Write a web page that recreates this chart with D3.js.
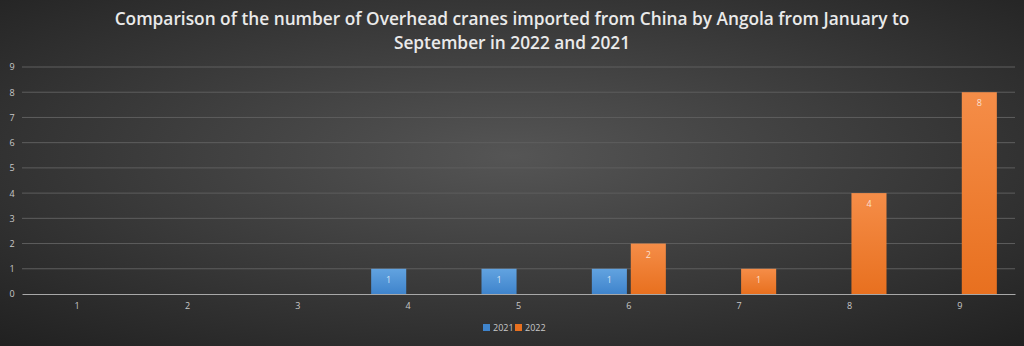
<!DOCTYPE html>
<html>
<head>
<meta charset="utf-8">
<script src="https://cdn.jsdelivr.net/npm/d3@7/dist/d3.min.js"></script>
<style>
  html, body { margin: 0; padding: 0; background: #2a2a2a; }
  svg { display: block; }
</style>
</head>
<body>
<svg id="chart" width="1024" height="346"></svg>
<script>
const months = ["1", "2", "3", "4", "5", "6", "7", "8", "9"];
const seriesNames = ["2021", "2022"];
const values2021 = [0, 0, 0, 1, 1, 1, 0, 0, 0];
const values2022 = [0, 0, 0, 0, 0, 2, 1, 4, 8];
const yTicks = [0, 1, 2, 3, 4, 5, 6, 7, 8, 9];
const titleLines = [
  "Comparison of the number of Overhead cranes imported from China by Angola from January to",
  "September in 2022 and 2021"
];

const W = 1024, H = 346;
const margin = { left: 22, right: 9, top: 67, bottom: 52 };
const svg = d3.select("#chart");
const defs = svg.append("defs");

// Background: dark radial gradient
const bg = defs.append("radialGradient").attr("id", "bg")
  .attr("cx", "50%").attr("cy", "45%").attr("r", "75%");
bg.append("stop").attr("offset", "0%").attr("stop-color", "#555555");
bg.append("stop").attr("offset", "100%").attr("stop-color", "#202020");
svg.append("rect").attr("width", W).attr("height", H).attr("fill", "url(#bg)");

const colors = { "2021": ["#62a3e0", "#3f84cc"], "2022": ["#f58d48", "#e8701f"] };
seriesNames.forEach(s => {
  const g = defs.append("linearGradient").attr("id", "g" + s)
    .attr("x1", 0).attr("y1", 0).attr("x2", 0).attr("y2", 1);
  g.append("stop").attr("offset", "0%").attr("stop-color", colors[s][0]);
  g.append("stop").attr("offset", "100%").attr("stop-color", colors[s][1]);
});

const x0 = d3.scaleBand().domain(months)
  .range([margin.left, W - margin.right]).paddingInner(0).paddingOuter(0);
const x1 = d3.scaleBand().domain(seriesNames).range([-37, 37]).paddingInner(0.1);
const y = d3.scaleLinear().domain([0, 9]).range([H - margin.bottom, margin.top]);

// Title
svg.append("g").selectAll("text").data(titleLines).join("text")
  .attr("x", W / 2).attr("y", (d, i) => 25 + i * 24)
  .attr("text-anchor", "middle")
  .attr("fill", "#eaeaea")
  .attr("font-family", "'Open Sans', sans-serif")
  .attr("font-weight", 600)
  .attr("font-size", 17.3)
  .text(d => d);

// Gridlines
svg.append("g").selectAll("line").data(yTicks.filter(t => t > 0)).join("line")
  .attr("x1", margin.left).attr("x2", W - margin.right)
  .attr("y1", d => y(d)).attr("y2", d => y(d))
  .attr("stroke", "#5e5e5e").attr("stroke-width", 1);

// Y axis labels
const yAxis = d3.axisLeft(y).tickValues(yTicks).tickSize(0).tickPadding(0);
const yg = svg.append("g").attr("transform", `translate(12,0)`).call(yAxis);
yg.select(".domain").remove();
yg.selectAll("text").attr("fill", "#c8c8c8").attr("font-size", 9)
  .attr("font-family", "'Open Sans', sans-serif").attr("text-anchor", "middle");

// X axis
const xAxis = d3.axisBottom(x0).tickSize(0).tickPadding(9);
const xg = svg.append("g").attr("transform", `translate(0,${y(0)})`).call(xAxis);
xg.select(".domain").attr("stroke", "#a8a8a8");
xg.selectAll("text").attr("fill", "#c8c8c8").attr("font-size", 9)
  .attr("font-family", "'Open Sans', sans-serif");

// Bars
const rows = months.map((m, i) => ({ month: m, vals: [
  { s: "2021", v: values2021[i] }, { s: "2022", v: values2022[i] }
] }));
const groups = svg.append("g").selectAll("g").data(rows).join("g")
  .attr("transform", d => `translate(${x0(d.month) + x0.bandwidth() / 2},0)`);
groups.selectAll("rect").data(d => d.vals.filter(e => e.v > 0)).join("rect")
  .attr("x", d => x1(d.s)).attr("width", x1.bandwidth())
  .attr("y", d => y(d.v)).attr("height", d => y(0) - y(d.v))
  .attr("fill", d => `url(#g${d.s})`);
groups.selectAll("text.lbl").data(d => d.vals.filter(e => e.v > 0)).join("text")
  .attr("class", "lbl")
  .attr("x", d => x1(d.s) + x1.bandwidth() / 2)
  .attr("y", d => y(d.v) + 14)
  .attr("text-anchor", "middle")
  .attr("fill", "rgba(255,255,255,0.75)")
  .attr("font-size", 9)
  .attr("font-family", "'Open Sans', sans-serif")
  .text(d => d.v);

// Legend
const legend = svg.append("g").attr("transform", "translate(483,330)");
seriesNames.forEach((s, i) => {
  const g = legend.append("g").attr("transform", `translate(${i * 32},0)`);
  g.append("rect").attr("x", 0).attr("y", -6).attr("width", 7).attr("height", 7)
    .attr("fill", colors[s][1]);
  g.append("text").attr("x", 10).attr("y", 1).attr("fill", "#c8c8c8")
    .attr("font-size", 9).attr("font-family", "'Open Sans', sans-serif").text(s);
});
</script>
</body>
</html>
